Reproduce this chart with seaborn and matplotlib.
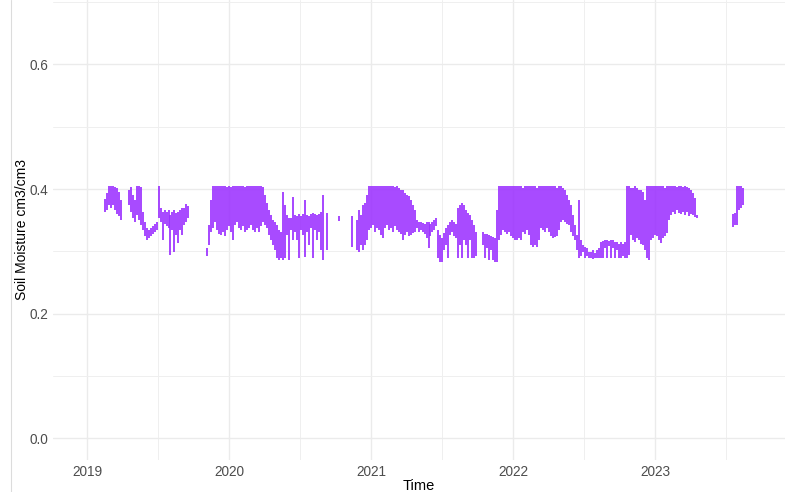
import matplotlib
matplotlib.use("Agg")
import matplotlib.pyplot as plt
import matplotlib.dates as mdates
from matplotlib.lines import Line2D
from matplotlib.ticker import FixedLocator, FormatStrFormatter
import numpy as np
import pandas as pd
import seaborn as sns

# Soil moisture record: for each reading window, the time (decimal year)
# and the highest / lowest value logged in that window (cm3/cm3).
t_years = [
    2019.127, 2019.141, 2019.155, 2019.169, 2019.183, 2019.197, 2019.211, 2019.225, 2019.239,
    2019.296, 2019.310, 2019.324, 2019.338, 2019.352, 2019.366, 2019.380, 2019.394, 2019.408,
    2019.423, 2019.437, 2019.451, 2019.465, 2019.479, 2019.493, 2019.507, 2019.521, 2019.535,
    2019.549, 2019.563, 2019.577, 2019.588, 2019.599, 2019.613, 2019.627, 2019.641, 2019.655,
    2019.669, 2019.683, 2019.697, 2019.711,
    2019.845, 2019.859, 2019.873, 2019.887, 2019.901, 2019.915, 2019.930, 2019.944, 2019.958,
    2019.972, 2019.986, 2020.000, 2020.014, 2020.028, 2020.042, 2020.056, 2020.070, 2020.085,
    2020.099, 2020.113, 2020.127, 2020.141, 2020.155, 2020.169, 2020.183, 2020.197, 2020.211,
    2020.225, 2020.239, 2020.254, 2020.268, 2020.282, 2020.296, 2020.310, 2020.324, 2020.338,
    2020.352, 2020.366, 2020.380, 2020.394, 2020.408, 2020.423, 2020.437, 2020.451, 2020.465,
    2020.479, 2020.493, 2020.507, 2020.521, 2020.535, 2020.549, 2020.563, 2020.577, 2020.592,
    2020.606, 2020.620, 2020.634, 2020.648, 2020.658, 2020.690, 2020.775, 2020.866,
    2020.901, 2020.915, 2020.930, 2020.944, 2020.958, 2020.972, 2020.986, 2021.000, 2021.014,
    2021.028, 2021.042, 2021.056, 2021.070, 2021.085, 2021.099, 2021.113, 2021.127, 2021.141,
    2021.155, 2021.169, 2021.183, 2021.197, 2021.211, 2021.225, 2021.239, 2021.254, 2021.268,
    2021.282, 2021.296, 2021.310, 2021.324, 2021.338, 2021.352, 2021.366, 2021.380, 2021.394,
    2021.405, 2021.415, 2021.430, 2021.444, 2021.458, 2021.472, 2021.486, 2021.500, 2021.514,
    2021.528, 2021.542, 2021.556, 2021.570, 2021.585, 2021.599, 2021.613, 2021.627, 2021.641,
    2021.655, 2021.669, 2021.683, 2021.697, 2021.711, 2021.725, 2021.739,
    2021.789, 2021.803, 2021.817, 2021.831, 2021.845, 2021.859, 2021.873, 2021.887, 2021.901,
    2021.915, 2021.930, 2021.944, 2021.958, 2021.972, 2021.986, 2022.000, 2022.014, 2022.028,
    2022.042, 2022.056, 2022.070, 2022.085, 2022.099, 2022.113, 2022.127, 2022.141, 2022.155,
    2022.169, 2022.183, 2022.197, 2022.211, 2022.225, 2022.239, 2022.254, 2022.268, 2022.282,
    2022.296, 2022.310, 2022.324, 2022.338, 2022.352, 2022.366, 2022.380, 2022.394, 2022.408,
    2022.423, 2022.437, 2022.451, 2022.465, 2022.479, 2022.493, 2022.507, 2022.521, 2022.535,
    2022.549, 2022.563, 2022.577, 2022.592, 2022.606, 2022.620, 2022.634, 2022.648, 2022.662,
    2022.676, 2022.690, 2022.704, 2022.718, 2022.732, 2022.746, 2022.761, 2022.775, 2022.789,
    2022.803, 2022.817, 2022.831, 2022.845, 2022.859, 2022.873, 2022.887, 2022.901, 2022.915,
    2022.930, 2022.944, 2022.958, 2022.972, 2022.986, 2023.000, 2023.014, 2023.028, 2023.042,
    2023.056, 2023.070, 2023.085, 2023.099, 2023.113, 2023.127, 2023.141, 2023.155, 2023.169,
    2023.183, 2023.197, 2023.211, 2023.225, 2023.239, 2023.254, 2023.268, 2023.282, 2023.296,
    2023.549, 2023.563, 2023.577, 2023.592, 2023.606, 2023.620, 2023.634,
]

moisture_hi = [
    .384, .394, .405, .405, .405, .403, .402, .395, .382,
    .398, .403, .390, .382, .405, .405, .403, .363, .347,
    .337, .334, .337, .341, .344, .347, .405, .370, .363,
    .366, .363, .366, .358, .363, .366, .362, .363, .366,
    .370, .370, .376, .373,
    .305, .342, .382, .405, .405, .405, .405, .405, .405,
    .405, .403, .405, .403, .405, .405, .405, .405, .405,
    .405, .403, .405, .405, .405, .405, .405, .405, .405,
    .405, .403, .390, .378, .366, .358, .350, .347, .342,
    .334, .331, .395, .374, .358, .353, .353, .387, .358,
    .357, .360, .357, .360, .382, .358, .357, .360, .362,
    .360, .358, .360, .363, .390, .362, .357, .357,
    .350, .366, .358, .374, .378, .390, .405, .405, .405,
    .405, .405, .405, .405, .405, .405, .405, .405, .405,
    .405, .403, .405, .402, .398, .398, .394, .390, .389,
    .382, .374, .366, .350, .347, .347, .345, .344, .347,
    .347, .344, .347, .350, .353, .334, .326, .321, .329,
    .337, .342, .347, .350, .347, .344, .370, .374, .378,
    .374, .366, .362, .358, .350, .342, .331,
    .331, .328, .328, .326, .325, .323, .321, .366, .405,
    .405, .405, .405, .405, .405, .405, .405, .405, .405,
    .405, .405, .402, .405, .405, .405, .405, .405, .405,
    .402, .405, .405, .405, .405, .405, .405, .405, .405,
    .405, .402, .405, .405, .402, .398, .390, .382, .374,
    .358, .342, .326, .382, .318, .310, .307, .305, .299,
    .299, .302, .297, .302, .305, .315, .317, .318, .318,
    .317, .318, .318, .315, .315, .312, .315, .312, .315,
    .405, .405, .402, .402, .405, .402, .398, .398, .395,
    .382, .405, .405, .405, .405, .405, .405, .405, .405,
    .405, .402, .405, .405, .405, .405, .405, .403, .405,
    .405, .403, .405, .403, .402, .398, .394, .386,
    .358, .360, .362, .405, .405, .405, .402,
]

moisture_lo = [
    .363, .366, .374, .370, .374, .366, .360, .357, .350,
    .374, .363, .353, .347, .358, .350, .342, .334, .325,
    .318, .321, .325, .328, .331, .334, .353, .347, .318,
    .344, .341, .337, .294, .334, .299, .326, .313, .334,
    .326, .342, .347, .353,
    .293, .310, .331, .337, .347, .334, .328, .326, .331,
    .325, .334, .341, .331, .318, .342, .347, .337, .334,
    .341, .331, .334, .337, .342, .334, .331, .337, .331,
    .341, .347, .342, .337, .326, .318, .310, .302, .289,
    .286, .289, .286, .289, .326, .286, .334, .318, .331,
    .318, .289, .334, .326, .291, .331, .310, .337, .289,
    .334, .318, .331, .302, .286, .302, .349, .307,
    .302, .299, .310, .302, .310, .318, .334, .337, .342,
    .331, .337, .334, .326, .321, .337, .342, .334, .337,
    .331, .341, .334, .331, .328, .318, .326, .331, .325,
    .326, .329, .331, .337, .331, .334, .331, .328, .321,
    .305, .325, .331, .334, .341, .289, .283, .283, .302,
    .310, .289, .326, .331, .325, .321, .289, .310, .289,
    .318, .310, .289, .318, .289, .289, .293,
    .310, .289, .305, .286, .302, .286, .283, .283, .318,
    .326, .334, .331, .328, .331, .325, .321, .318, .318,
    .321, .318, .331, .328, .334, .326, .310, .307, .310,
    .307, .318, .337, .334, .331, .337, .331, .325, .321,
    .323, .325, .334, .347, .350, .347, .344, .342, .331,
    .325, .318, .302, .289, .293, .299, .289, .293, .289,
    .289, .288, .289, .289, .289, .289, .289, .305, .289,
    .309, .289, .305, .289, .302, .289, .289, .293, .289,
    .289, .294, .326, .318, .315, .321, .318, .312, .310,
    .302, .289, .286, .318, .321, .326, .325, .318, .313,
    .321, .325, .329, .350, .358, .363, .360, .366, .362,
    .360, .363, .358, .363, .357, .360, .358, .355, .353,
    .339, .342, .342, .366, .370, .374, .382,
]


def year_to_ts(y):
    """Convert a decimal year to a timestamp."""
    year = int(np.floor(y))
    start = pd.Timestamp(year, 1, 1)
    end = pd.Timestamp(year + 1, 1, 1)
    return start + (end - start) * (y - year)


rows = []
for i, (ty, hi, lo) in enumerate(zip(t_years, moisture_hi, moisture_lo)):
    ts = year_to_ts(ty)
    rows.append((i, ts, lo))
    rows.append((i, ts, hi))
df = pd.DataFrame(rows, columns=["reading", "Time", "Soil Moisture"])

sns.set_theme(style="whitegrid")
plt.rcParams["font.family"] = ["Liberation Sans", "DejaVu Sans"]

W, H = 787, 492
fig = plt.figure(figsize=(W / 100, H / 100), dpi=100)
fig.patch.set_facecolor("white")
ax = fig.add_axes([53 / W, 1 - 460 / H, 732 / W, 460 / H])
ax.set_facecolor("white")

sns.lineplot(
    data=df, x="Time", y="Soil Moisture", units="reading", estimator=None,
    color="#9B30FF", linewidth=1.25, solid_capstyle="butt", legend=False, ax=ax,
)

ax.set_xlim(year_to_ts(2018.7606), year_to_ts(2023.915))
ax.set_ylim(-0.0346, 0.7031)

ax.set_yticks([0.0, 0.2, 0.4, 0.6])
ax.yaxis.set_minor_locator(FixedLocator([0.1, 0.3, 0.5, 0.7]))
ax.yaxis.set_major_formatter(FormatStrFormatter("%.1f"))

ax.xaxis.set_major_locator(mdates.YearLocator())
ax.xaxis.set_major_formatter(mdates.DateFormatter("%Y"))
mid_years = [mdates.date2num(year_to_ts(y + 0.5)) for y in range(2018, 2024)]
ax.xaxis.set_minor_locator(FixedLocator(mid_years))

ax.grid(which="major", color="#EBEBEB", linewidth=1.0)
ax.grid(which="minor", color="#EFEFEF", linewidth=0.7)
ax.set_axisbelow(True)
for sp in ax.spines.values():
    sp.set_visible(False)

ax.tick_params(which="both", length=0)
ax.tick_params(axis="both", which="major", labelsize=9.8, labelcolor="#4D4D4D", pad=3.5)

ax.set_xlabel("Time", fontsize=10.5, color="black", labelpad=0)
ax.set_ylabel("Soil Moisture cm3/cm3", fontsize=10, color="black", labelpad=0)

# thin frame line on the left margin
fig.add_artist(Line2D([10.5 / W, 10.5 / W], [0, 1], transform=fig.transFigure,
                      color="#DCDCDC", linewidth=0.8))

fig.savefig("out.png", dpi=100, facecolor="white")
